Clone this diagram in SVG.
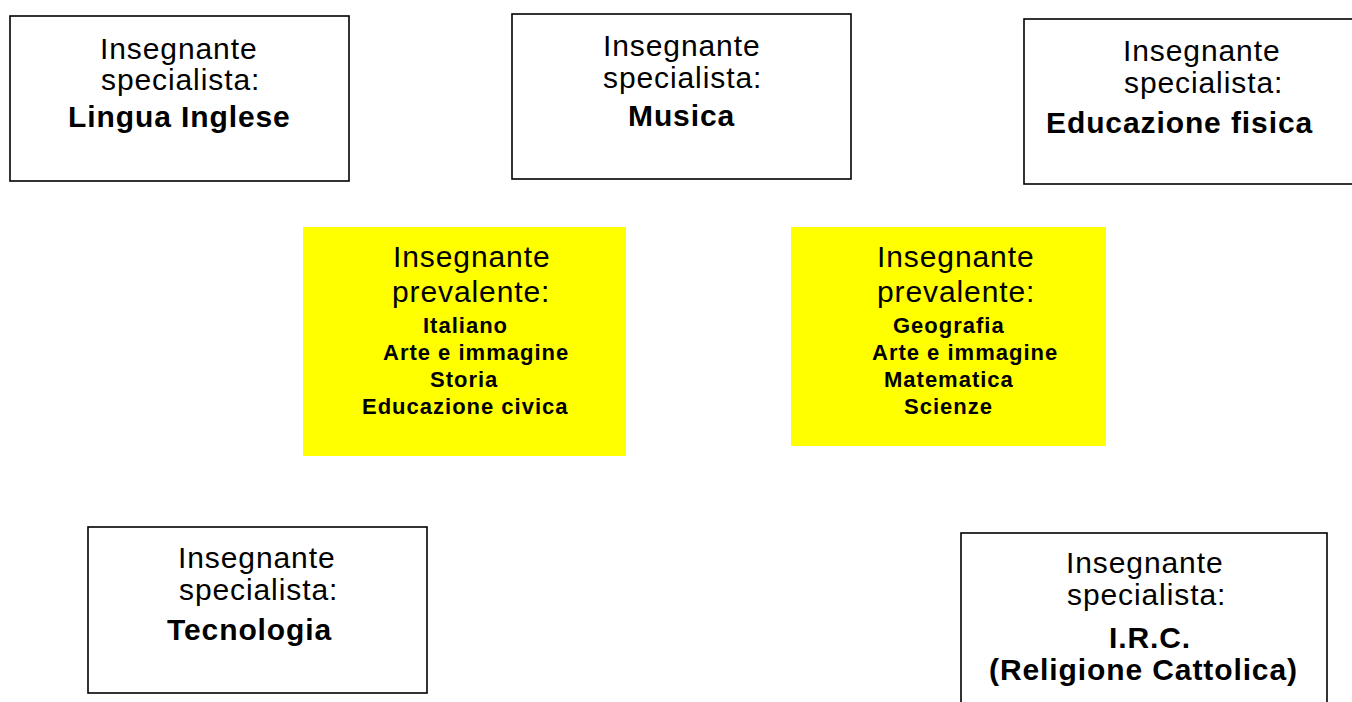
<svg xmlns="http://www.w3.org/2000/svg" width="1352" height="702" viewBox="0 0 1352 702">
<style>
.box{fill:#fff;stroke:#000;stroke-width:1.6}
.ybox{fill:#ffff00;stroke:none}
.r{font-family:"Liberation Sans",Arial,sans-serif;font-size:30px;letter-spacing:0.9px;fill:#000}
.b{font-family:"Liberation Sans",Arial,sans-serif;font-size:30px;font-weight:bold;letter-spacing:0.9px;fill:#000}
.s{font-family:"Liberation Sans",Arial,sans-serif;font-size:22px;font-weight:bold;letter-spacing:1px;fill:#000}
</style>
<rect width="1352" height="702" fill="#fff"/>
<g id="lingua-inglese">
<rect class="box" x="10" y="16" width="339" height="165"/>
<text class="r" x="100" y="59">Insegnante</text>
<text class="r" x="101" y="90">specialista:</text>
<text class="b" x="68" y="127">Lingua Inglese</text>
</g>
<g id="musica">
<rect class="box" x="512" y="14" width="339" height="165"/>
<text class="r" x="603" y="56">Insegnante</text>
<text class="r" x="603" y="88">specialista:</text>
<text class="b" x="628" y="126">Musica</text>
</g>
<g id="educazione-fisica">
<rect class="box" x="1024" y="19" width="345" height="165"/>
<text class="r" x="1123" y="61">Insegnante</text>
<text class="r" x="1124" y="93">specialista:</text>
<text class="b" x="1046" y="133">Educazione fisica</text>
</g>
<g id="prevalente-1">
<rect class="ybox" x="303" y="227" width="323" height="229"/>
<text class="r" x="393" y="267">Insegnante</text>
<text class="r" x="392" y="302">prevalente:</text>
<text class="s" x="423" y="333">Italiano</text>
<text class="s" x="383" y="360">Arte e immagine</text>
<text class="s" x="430" y="387">Storia</text>
<text class="s" x="362" y="414">Educazione civica</text>
</g>
<g id="prevalente-2">
<rect class="ybox" x="791" y="227" width="315" height="219"/>
<text class="r" x="877" y="267">Insegnante</text>
<text class="r" x="877" y="302">prevalente:</text>
<text class="s" x="893" y="333">Geografia</text>
<text class="s" x="872" y="360">Arte e immagine</text>
<text class="s" x="884" y="387">Matematica</text>
<text class="s" x="904" y="414">Scienze</text>
</g>
<g id="tecnologia">
<rect class="box" x="88" y="527" width="339" height="166"/>
<text class="r" x="178" y="568">Insegnante</text>
<text class="r" x="179" y="600">specialista:</text>
<text class="b" x="167" y="640">Tecnologia</text>
</g>
<g id="irc">
<rect class="box" x="961" y="533" width="366" height="190"/>
<text class="r" x="1066" y="573">Insegnante</text>
<text class="r" x="1067" y="605">specialista:</text>
<text class="b" x="1109" y="648">I.R.C.</text>
<text class="b" x="989" y="680">(Religione Cattolica)</text>
</g>
<g id="connectors"></g>
</svg>
